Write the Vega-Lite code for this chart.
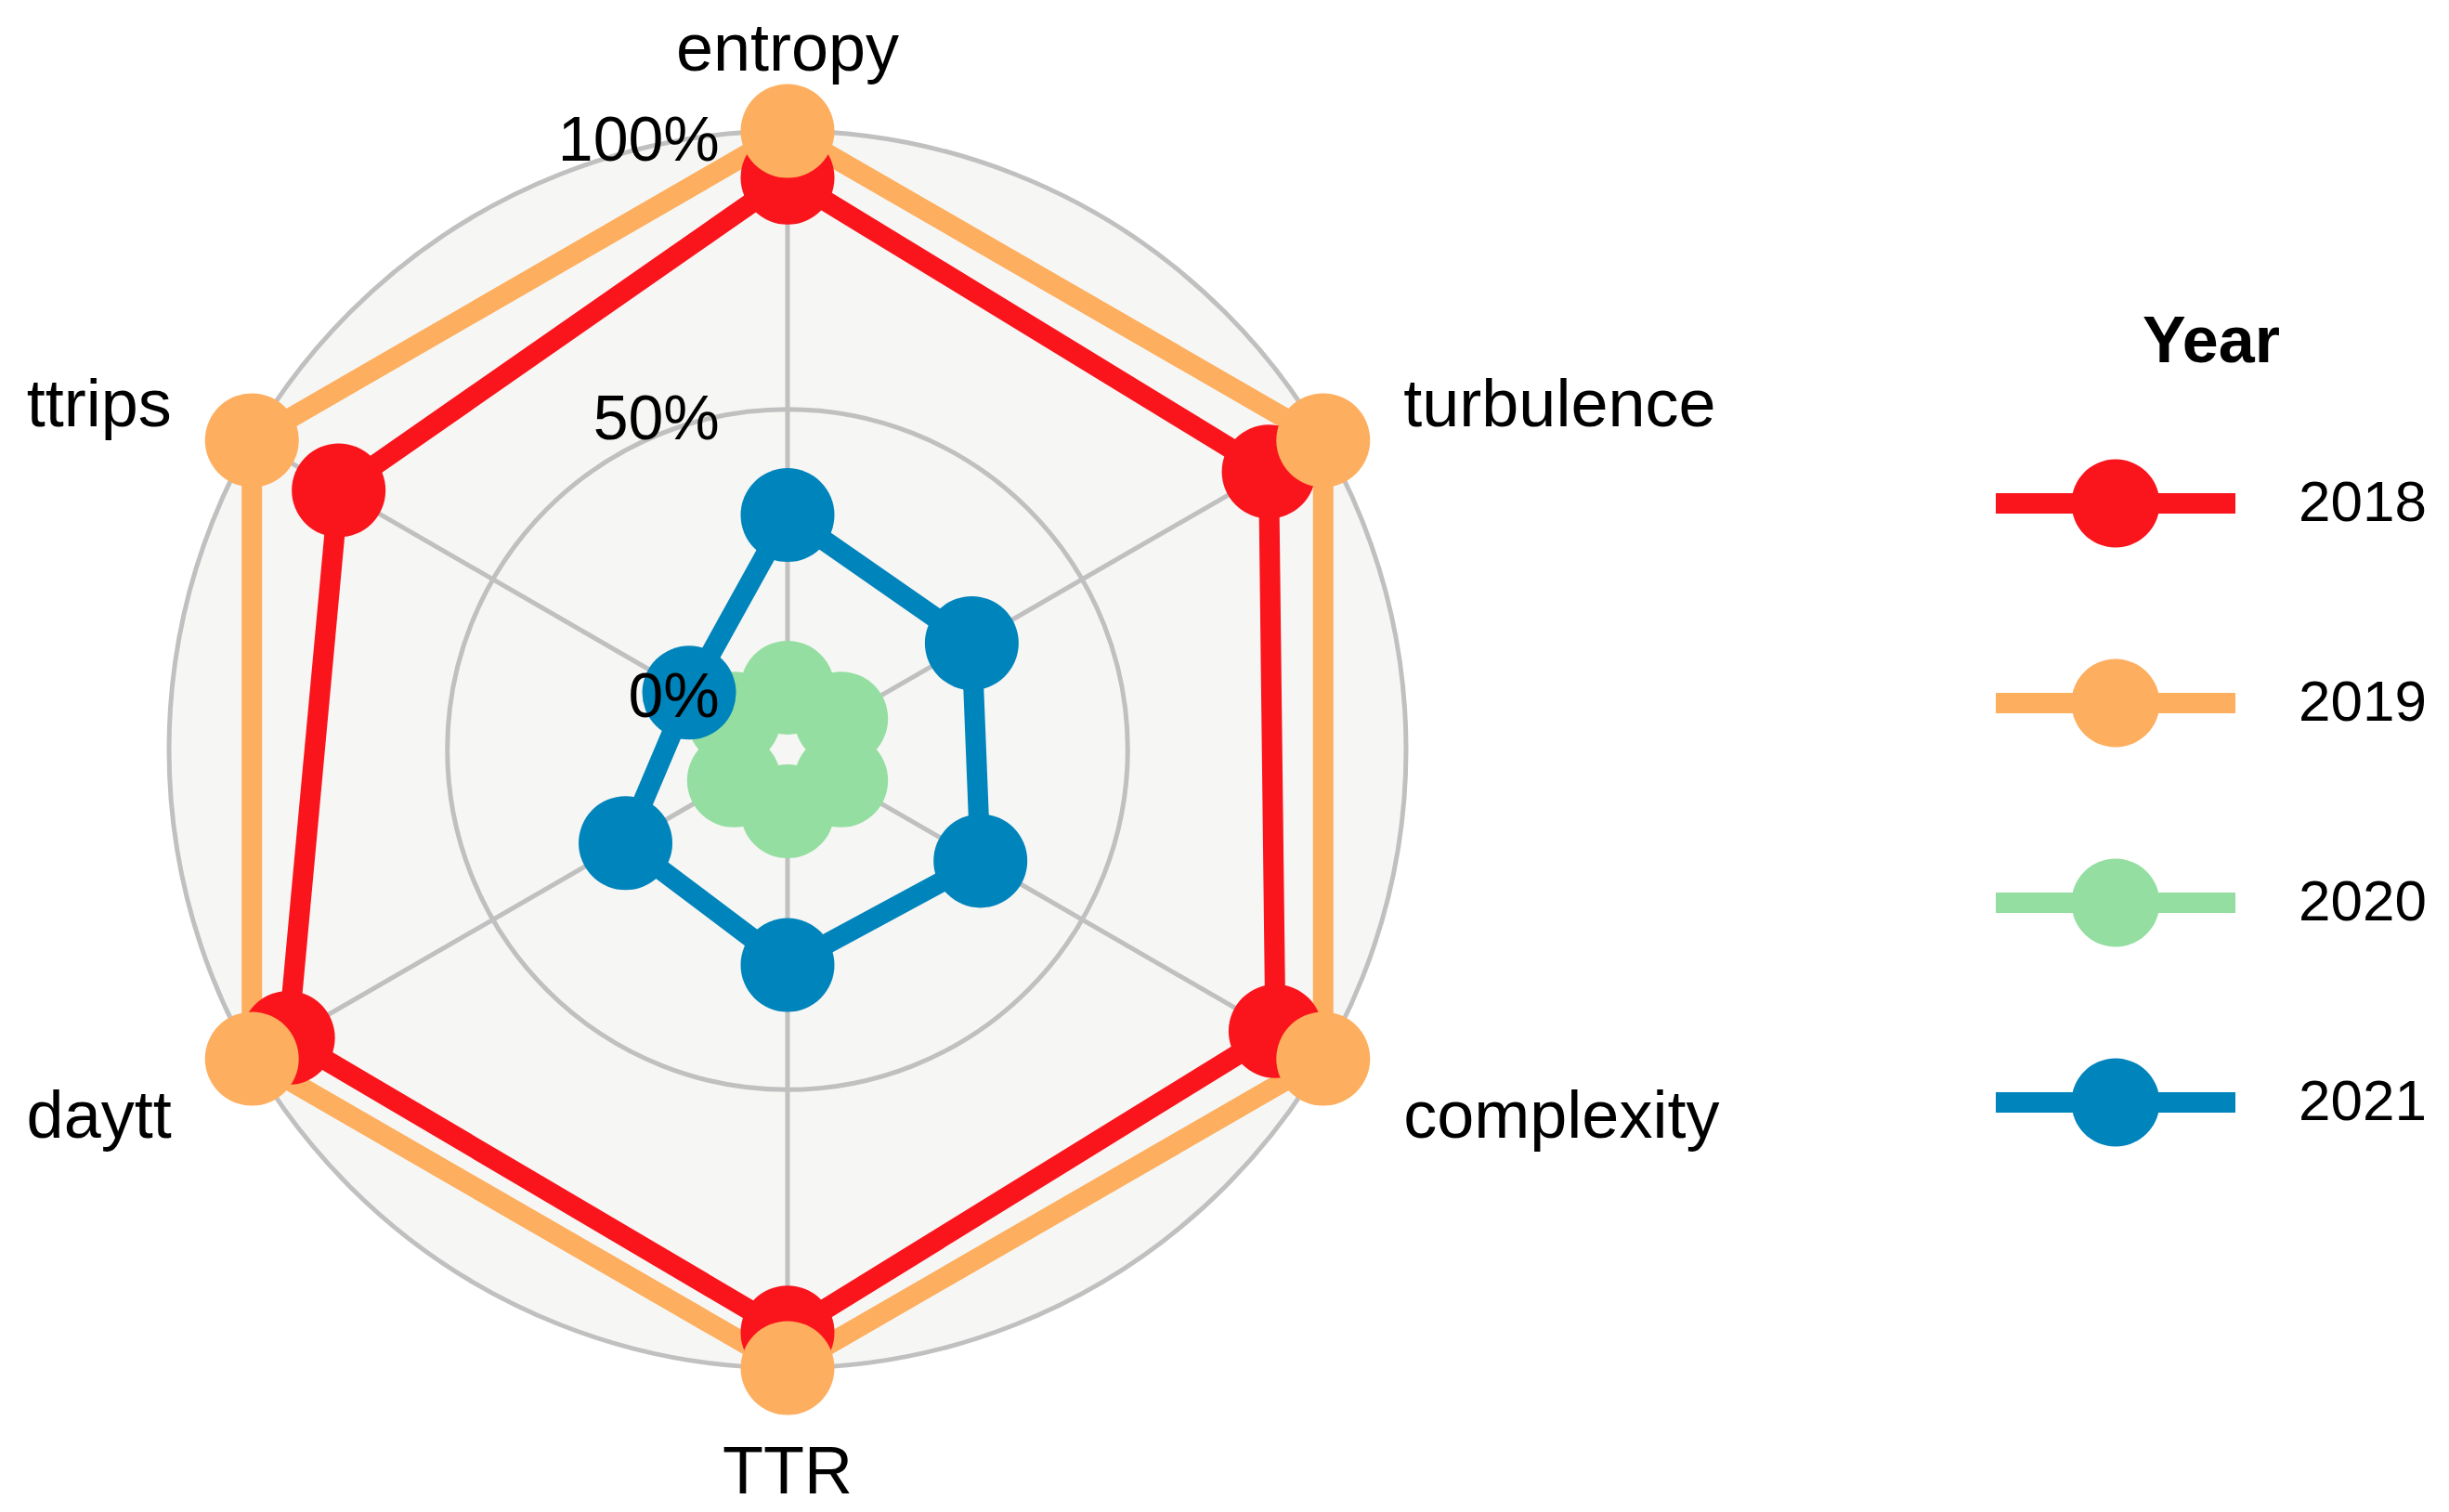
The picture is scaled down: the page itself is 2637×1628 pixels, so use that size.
{
  "$schema": "https://vega.github.io/schema/vega-lite/v6.json",
  "width": 1614,
  "height": 1614,
  "autosize": {"type": "none"},
  "padding": {"left": 41, "top": 0, "right": 982, "bottom": 14},
  "background": "white",
  "config": {"view": {"stroke": null}, "font": "Liberation Sans"},
  "datasets": {
    "scores": [
      {"year": "2018", "axis": "entropy", "value": 0.916},
      {"year": "2018", "axis": "turbulence", "value": 0.887},
      {"year": "2018", "axis": "complexity", "value": 0.901},
      {"year": "2018", "axis": "TTR", "value": 0.936},
      {"year": "2018", "axis": "daytt", "value": 0.925},
      {"year": "2018", "axis": "ttrips", "value": 0.82},
      {"year": "2019", "axis": "entropy", "value": 1},
      {"year": "2019", "axis": "turbulence", "value": 1},
      {"year": "2019", "axis": "complexity", "value": 1},
      {"year": "2019", "axis": "TTR", "value": 1},
      {"year": "2019", "axis": "daytt", "value": 1},
      {"year": "2019", "axis": "ttrips", "value": 1},
      {"year": "2020", "axis": "entropy", "value": 0},
      {"year": "2020", "axis": "turbulence", "value": 0},
      {"year": "2020", "axis": "complexity", "value": 0},
      {"year": "2020", "axis": "TTR", "value": 0},
      {"year": "2020", "axis": "daytt", "value": 0},
      {"year": "2020", "axis": "ttrips", "value": 0},
      {"year": "2021", "axis": "entropy", "value": 0.31},
      {"year": "2021", "axis": "turbulence", "value": 0.271},
      {"year": "2021", "axis": "complexity", "value": 0.289},
      {"year": "2021", "axis": "TTR", "value": 0.276},
      {"year": "2021", "axis": "daytt", "value": 0.225},
      {"year": "2021", "axis": "ttrips", "value": 0.093}
    ],
    "grid": [
      {"level": 0, "label": "0%"},
      {"level": 0.5, "label": "50%"},
      {"level": 1, "label": "100%"}
    ],
    "axes": [
      {"axis": "entropy"},
      {"axis": "turbulence"},
      {"axis": "complexity"},
      {"axis": "TTR"},
      {"axis": "daytt"},
      {"axis": "ttrips"}
    ]
  },
  "layer": [
    {
      "data": {"name": "grid"},
      "transform": [
        {"filter": "datum.level == 1"},
        {"calculate": "0.1 + 0.9 * datum.level", "as": "r"},
        {"calculate": "0", "as": "cx"}
      ],
      "mark": {"type": "point", "shape": "circle", "filled": true, "color": "#F6F6F4", "opacity": 1, "strokeWidth": 0},
      "encoding": {
        "x": {"field": "cx", "type": "quantitative", "scale": {"domain": [-1.21171, 1.21171], "nice": false, "zero": false}, "axis": null},
        "y": {"field": "cx", "type": "quantitative", "scale": {"domain": [-1.21171, 1.21171], "nice": false, "zero": false}, "axis": null},
        "size": {"field": "r", "type": "quantitative", "legend": null, "scale": {"type": "pow", "exponent": 2, "domain": [0, 1], "range": [0, 1774224], "zero": true}}
      }
    },
    {
      "data": {"name": "grid"},
      "transform": [
        {"calculate": "0.1 + 0.9 * datum.level", "as": "r"},
        {"calculate": "0", "as": "cx"}
      ],
      "mark": {"type": "point", "shape": "circle", "filled": false, "color": "#C0C0C0", "opacity": 1, "strokeWidth": 5},
      "encoding": {
        "x": {"field": "cx", "type": "quantitative", "scale": {"domain": [-1.21171, 1.21171], "nice": false, "zero": false}, "axis": null},
        "y": {"field": "cx", "type": "quantitative", "scale": {"domain": [-1.21171, 1.21171], "nice": false, "zero": false}, "axis": null},
        "size": {"field": "r", "type": "quantitative", "legend": null, "scale": {"type": "pow", "exponent": 2, "domain": [0, 1], "range": [0, 1774224], "zero": true}}
      }
    },
    {
      "data": {"name": "axes"},
      "transform": [
        {"calculate": "indexof(['entropy','turbulence','complexity','TTR','daytt','ttrips'], datum.axis)", "as": "k"},
        {"calculate": "0.1 * sin(datum.k * PI / 3)", "as": "sx"},
        {"calculate": "0.1 * cos(datum.k * PI / 3)", "as": "sy"},
        {"calculate": "sin(datum.k * PI / 3)", "as": "ex"},
        {"calculate": "cos(datum.k * PI / 3)", "as": "ey"}
      ],
      "mark": {"type": "rule", "color": "#C0C0C0", "strokeWidth": 5},
      "encoding": {
        "x": {"field": "sx", "type": "quantitative", "scale": {"domain": [-1.21171, 1.21171], "nice": false, "zero": false}, "axis": null},
        "y": {"field": "sy", "type": "quantitative", "scale": {"domain": [-1.21171, 1.21171], "nice": false, "zero": false}, "axis": null},
        "x2": {"field": "ex"},
        "y2": {"field": "ey"}
      }
    },
    {
      "data": {"name": "scores"},
      "transform": [
        {"calculate": "indexof(['entropy','turbulence','complexity','TTR','daytt','ttrips'], datum.axis)", "as": "k"},
        {"calculate": "0.1 + 0.9 * datum.value", "as": "r"},
        {"calculate": "datum.r * sin(datum.k * PI / 3)", "as": "px"},
        {"calculate": "datum.r * cos(datum.k * PI / 3)", "as": "py"}
      ],
      "mark": {"type": "line", "interpolate": "linear-closed", "strokeWidth": 22},
      "encoding": {
        "x": {"field": "px", "type": "quantitative", "scale": {"domain": [-1.21171, 1.21171], "nice": false, "zero": false}, "axis": null},
        "y": {"field": "py", "type": "quantitative", "scale": {"domain": [-1.21171, 1.21171], "nice": false, "zero": false}, "axis": null},
        "order": {"field": "k", "type": "quantitative"},
        "color": {"field": "year", "type": "nominal",
          "scale": {"domain": ["2018", "2019", "2020", "2021"], "range": ["#FA141C", "#FDAE5E", "#94DEA1", "#0084BC"]},
          "legend": {
            "title": "Year",
            "orient": "none",
            "legendX": 2108,
            "legendY": 335,
            "padding": 0,
            "symbolType": "M-1,-0.085H1V0.085H-1Z M-0.368,0A0.368,0.368 0 1,1 0.368,0A0.368,0.368 0 1,1 -0.368,0Z",
            "symbolSize": 66564,
            "symbolStrokeWidth": 0,
            "symbolOpacity": 1,
            "labelOffset": 68,
            "labelFontSize": 62,
            "labelFont": "Liberation Sans",
            "labelColor": "#000000",
            "titleFont": "Liberation Sans",
            "titleFontSize": 70,
            "titleFontWeight": "bold",
            "titleColor": "#000000",
            "titleAnchor": "middle",
            "titlePadding": 8,
            "rowPadding": 38
          }
        }
      }
    },
    {
      "data": {"name": "scores"},
      "transform": [
        {"calculate": "indexof(['entropy','turbulence','complexity','TTR','daytt','ttrips'], datum.axis)", "as": "k"},
        {"calculate": "0.1 + 0.9 * datum.value", "as": "r"},
        {"calculate": "datum.r * sin(datum.k * PI / 3)", "as": "px"},
        {"calculate": "datum.r * cos(datum.k * PI / 3)", "as": "py"}
      ],
      "mark": {"type": "point", "shape": "circle", "filled": true, "size": 10201, "opacity": 1, "strokeWidth": 0},
      "encoding": {
        "x": {"field": "px", "type": "quantitative", "scale": {"domain": [-1.21171, 1.21171], "nice": false, "zero": false}, "axis": null},
        "y": {"field": "py", "type": "quantitative", "scale": {"domain": [-1.21171, 1.21171], "nice": false, "zero": false}, "axis": null},
        "color": {"field": "year", "type": "nominal",
          "scale": {"domain": ["2018", "2019", "2020", "2021"], "range": ["#FA141C", "#FDAE5E", "#94DEA1", "#0084BC"]},
          "legend": {
            "title": "Year",
            "orient": "none",
            "legendX": 2108,
            "legendY": 335,
            "padding": 0,
            "symbolType": "M-1,-0.085H1V0.085H-1Z M-0.368,0A0.368,0.368 0 1,1 0.368,0A0.368,0.368 0 1,1 -0.368,0Z",
            "symbolSize": 66564,
            "symbolStrokeWidth": 0,
            "symbolOpacity": 1,
            "labelOffset": 68,
            "labelFontSize": 62,
            "labelFont": "Liberation Sans",
            "labelColor": "#000000",
            "titleFont": "Liberation Sans",
            "titleFontSize": 70,
            "titleFontWeight": "bold",
            "titleColor": "#000000",
            "titleAnchor": "middle",
            "titlePadding": 8,
            "rowPadding": 38
          }
        }
      }
    },
    {
      "data": {"name": "axes"},
      "transform": [
        {"filter": "datum.axis == 'entropy' || datum.axis == 'TTR'"},
        {"calculate": "indexof(['entropy','turbulence','complexity','TTR','daytt','ttrips'], datum.axis)", "as": "k"},
        {"calculate": "1.15 * sin(datum.k * PI / 3)", "as": "lx"},
        {"calculate": "1.15 * cos(datum.k * PI / 3)", "as": "ly"}
      ],
      "mark": {"type": "text", "align": "center", "baseline": "middle", "fontSize": 72, "dy": 13, "font": "Liberation Sans", "color": "#000000"},
      "encoding": {
        "x": {"field": "lx", "type": "quantitative", "scale": {"domain": [-1.21171, 1.21171], "nice": false, "zero": false}, "axis": null},
        "y": {"field": "ly", "type": "quantitative", "scale": {"domain": [-1.21171, 1.21171], "nice": false, "zero": false}, "axis": null},
        "text": {"field": "axis", "type": "nominal"}
      }
    },
    {
      "data": {"name": "axes"},
      "transform": [
        {"filter": "datum.axis == 'turbulence' || datum.axis == 'complexity'"},
        {"calculate": "indexof(['entropy','turbulence','complexity','TTR','daytt','ttrips'], datum.axis)", "as": "k"},
        {"calculate": "1.15 * sin(datum.k * PI / 3)", "as": "lx"},
        {"calculate": "1.15 * cos(datum.k * PI / 3)", "as": "ly"}
      ],
      "mark": {"type": "text", "align": "left", "baseline": "middle", "fontSize": 72, "dy": 13, "font": "Liberation Sans", "color": "#000000"},
      "encoding": {
        "x": {"field": "lx", "type": "quantitative", "scale": {"domain": [-1.21171, 1.21171], "nice": false, "zero": false}, "axis": null},
        "y": {"field": "ly", "type": "quantitative", "scale": {"domain": [-1.21171, 1.21171], "nice": false, "zero": false}, "axis": null},
        "text": {"field": "axis", "type": "nominal"}
      }
    },
    {
      "data": {"name": "axes"},
      "transform": [
        {"filter": "datum.axis == 'daytt' || datum.axis == 'ttrips'"},
        {"calculate": "indexof(['entropy','turbulence','complexity','TTR','daytt','ttrips'], datum.axis)", "as": "k"},
        {"calculate": "1.15 * sin(datum.k * PI / 3)", "as": "lx"},
        {"calculate": "1.15 * cos(datum.k * PI / 3)", "as": "ly"}
      ],
      "mark": {"type": "text", "align": "right", "baseline": "middle", "fontSize": 72, "dy": 13, "font": "Liberation Sans", "color": "#000000"},
      "encoding": {
        "x": {"field": "lx", "type": "quantitative", "scale": {"domain": [-1.21171, 1.21171], "nice": false, "zero": false}, "axis": null},
        "y": {"field": "ly", "type": "quantitative", "scale": {"domain": [-1.21171, 1.21171], "nice": false, "zero": false}, "axis": null},
        "text": {"field": "axis", "type": "nominal"}
      }
    },
    {
      "data": {"name": "grid"},
      "transform": [
        {"calculate": "0.1 + 0.9 * datum.level", "as": "r"},
        {"calculate": "-0.11", "as": "gx"}
      ],
      "mark": {"type": "text", "align": "right", "baseline": "middle", "fontSize": 68, "dy": 12, "font": "Liberation Sans", "color": "#000000"},
      "encoding": {
        "x": {"field": "gx", "type": "quantitative", "scale": {"domain": [-1.21171, 1.21171], "nice": false, "zero": false}, "axis": null},
        "y": {"field": "r", "type": "quantitative", "scale": {"domain": [-1.21171, 1.21171], "nice": false, "zero": false}, "axis": null},
        "text": {"field": "label", "type": "nominal"}
      }
    }
  ]
}
